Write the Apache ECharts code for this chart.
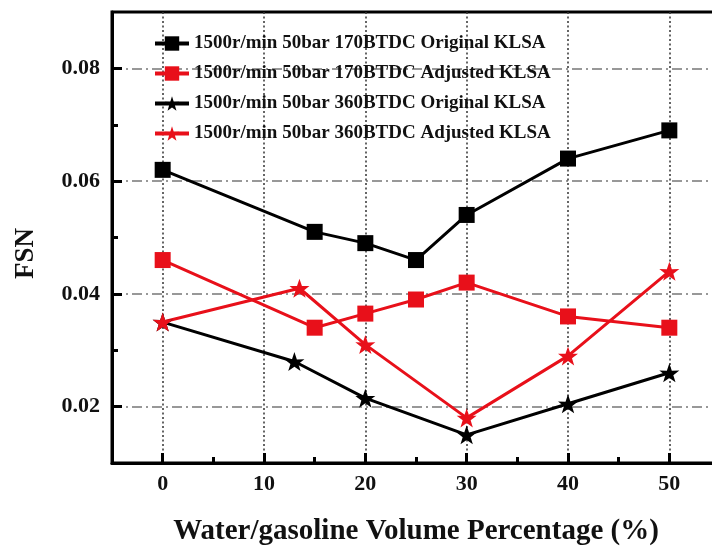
<!DOCTYPE html>
<html><head><meta charset="utf-8">
<script src="https://cdn.jsdelivr.net/npm/echarts@6/dist/echarts.min.js"></script>
<style>html,body{margin:0;padding:0;background:#fff}#c{width:712px;height:548px}</style>
</head><body><div id="c"></div>
<script>
const seriesNames = [
  '1500r/min 50bar 170BTDC Original KLSA',
  '1500r/min 50bar 170BTDC Adjusted KLSA',
  '1500r/min 50bar 360BTDC Original KLSA',
  '1500r/min 50bar 360BTDC Adjusted KLSA'
];
const x170 = [0, 15, 20, 25, 30, 40, 50];
const orig170 = [0.062, 0.051, 0.049, 0.046, 0.054, 0.064, 0.069];
const adj170 = [0.046, 0.034, 0.0365, 0.039, 0.042, 0.036, 0.034];
const xOrig360 = [0, 13, 20, 30, 40, 50];
const orig360 = [0.035, 0.028, 0.0215, 0.015, 0.0205, 0.026];
const xAdj360 = [0, 13.5, 20, 30, 40, 50];
const adj360 = [0.035, 0.041, 0.031, 0.018, 0.029, 0.044];
const xMajorTicks = [0, 10, 20, 30, 40, 50];
const xMinorTicks = [5, 15, 25, 35, 45];
const yMajorTicks = [0.02, 0.04, 0.06, 0.08];
const yMinorTicks = [0.03, 0.05, 0.07];

const FONT = '"Liberation Serif", "Times New Roman", serif';
const RED = '#e8101a';
const STAR = 'path://M50,0 L61.8,35.1 L97.6,34.5 L69,56.7 L79.4,90.5 L50,70 L20.6,90.5 L31,56.7 L2.4,34.5 L38.2,35.1 Z';
const zip = (xs, ys) => xs.map((v, i) => [v, ys[i]]);

function mk(name, xs, ys, color, symbol, size) {
  return {
    name, type: 'line', data: zip(xs, ys), symbol, symbolSize: size,
    symbolKeepAspect: true,
    lineStyle: { color, width: 3 }, itemStyle: { color, borderWidth: 0 },
    emphasis: { disabled: true }, animation: false
  };
}

const chart = echarts.init(document.getElementById('c'), null, { renderer: 'canvas' });
chart.setOption({
  animation: false,
  grid: { left: 112, top: 12, width: 608, height: 451, outerBoundsMode: 'none', containLabel: false,
    show: true, borderColor: '#000', borderWidth: 3, backgroundColor: 'transparent' },
  legend: {
    orient: 'vertical', left: 148, top: 28, itemWidth: 34, itemHeight: 18, itemGap: 9,
    lineStyle: { width: 4 },
    textStyle: { fontFamily: FONT, fontWeight: 'bold', fontSize: 19, color: '#111', lineHeight: 21 },
    data: seriesNames
  },
  xAxis: [{
    type: 'value', min: -5, max: 55,
    axisLine: { show: true, onZero: false, lineStyle: { color: '#000', width: 3 } },
    axisTick: { show: true, inside: true, length: 10, customValues: xMajorTicks, lineStyle: { color: '#000', width: 3 } },
    axisLabel: { customValues: xMajorTicks, fontFamily: FONT, fontWeight: 'bold', fontSize: 22, color: '#111', margin: 10 },
    splitLine: { show: true, lineStyle: { color: '#333', width: 1.5, type: [2, 2.5] } },
    name: 'Water/gasoline Volume Percentage (%)', nameLocation: 'middle', nameGap: 54,
    nameTextStyle: { fontFamily: FONT, fontWeight: 'bold', fontSize: 29, color: '#111' }
  }, {
    type: 'value', min: -5, max: 55, position: 'bottom',
    axisLine: { show: false, onZero: false },
    axisTick: { show: true, inside: true, length: 6, customValues: xMinorTicks, lineStyle: { color: '#000', width: 3 } },
    axisLabel: { show: false }, splitLine: { show: false }
  }],
  yAxis: [{
    type: 'value', min: 0.01, max: 0.09,
    axisLine: { show: true, onZero: false, lineStyle: { color: '#000', width: 3 } },
    axisTick: { show: true, inside: true, length: 10, customValues: yMajorTicks, lineStyle: { color: '#000', width: 3 } },
    axisLabel: { customValues: yMajorTicks, fontFamily: FONT, fontWeight: 'bold', fontSize: 22, color: '#111', margin: 12,
      formatter: v => v.toFixed(2) },
    splitLine: { show: true, lineStyle: { color: '#777', width: 1.5, type: [10, 4, 2, 4] } }
  }, {
    type: 'value', min: 0.01, max: 0.09, position: 'left',
    axisLine: { show: false, onZero: false },
    axisTick: { show: true, inside: true, length: 6, customValues: yMinorTicks, lineStyle: { color: '#000', width: 3 } },
    axisLabel: { show: false }, splitLine: { show: false }
  }],
  graphic: [{
    type: 'text', left: 13, top: 228, rotation: Math.PI / 2,
    style: { text: 'FSN', font: 'bold 27px ' + FONT, fill: '#111' }
  }],
  series: [
    mk(seriesNames[0], x170, orig170, '#000', 'rect', 16),
    mk(seriesNames[1], x170, adj170, RED, 'rect', 16),
    mk(seriesNames[2], xOrig360, orig360, '#000', STAR, 20),
    mk(seriesNames[3], xAdj360, adj360, RED, STAR, 20)
  ]
});
</script></body></html>
